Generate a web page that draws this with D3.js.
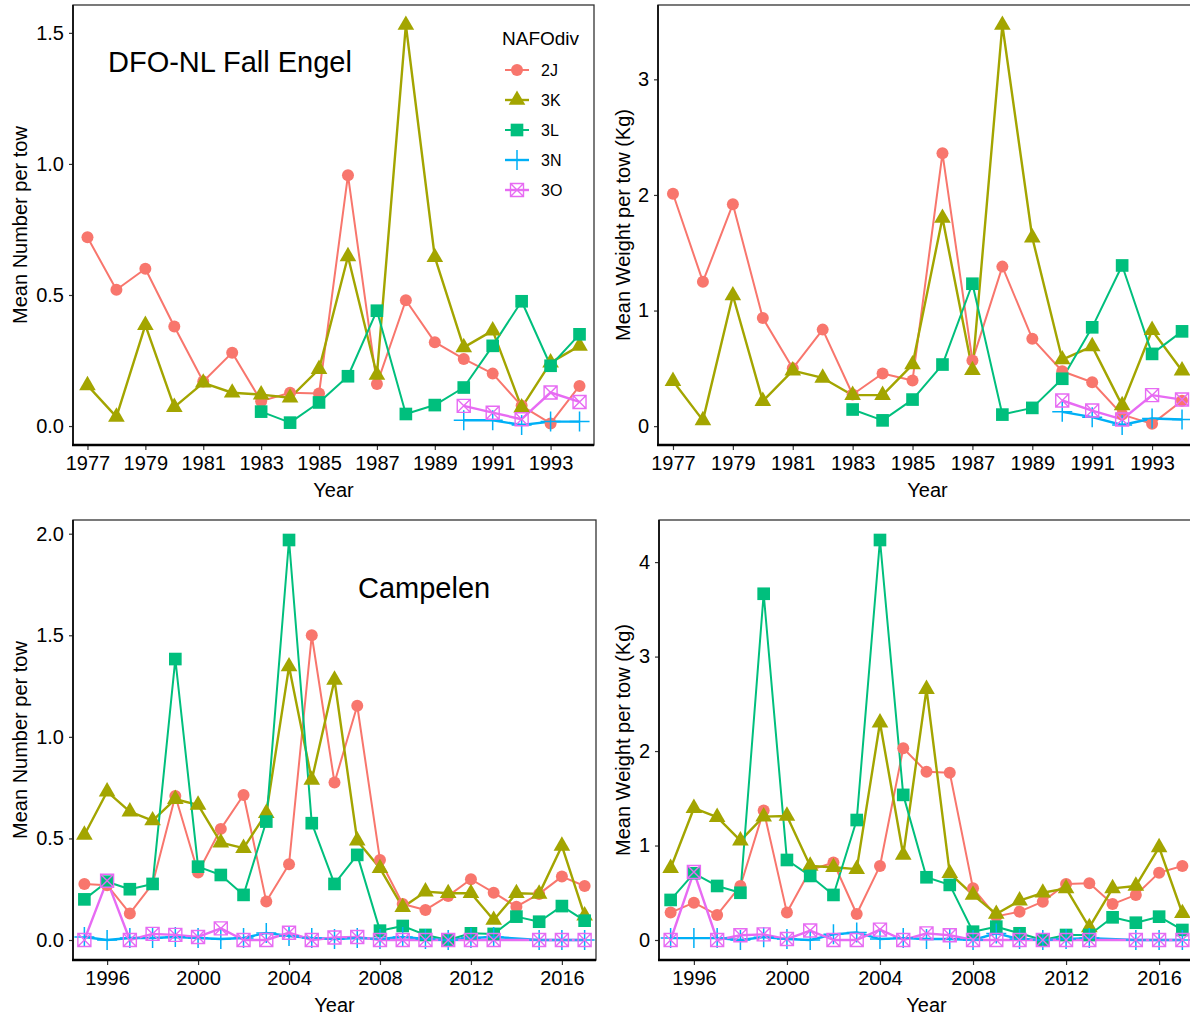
<!DOCTYPE html>
<html><head><meta charset="utf-8">
<script src="https://cdn.jsdelivr.net/npm/d3@7"></script>
<style>body{margin:0;background:#fff} svg{display:block}</style>
</head><body><svg id="c" width="1190" height="1018"></svg>
<script>
// ---------- DATA ----------
const divisions = ["2J", "3K", "3L", "3N", "3O"];

const engelYears = [1977,1978,1979,1980,1981,1982,1983,1984,1985,1986,1987,1988,1989,1990,1991,1992,1993,1994];
const engelNum2J = [0.72,0.52,0.60,0.38,0.17,0.28,0.095,0.127,0.124,0.957,0.16,0.48,0.32,0.256,0.20,0.077,0.01,0.153];
const engelNum3K = [0.155,0.035,0.385,0.072,0.165,0.127,0.12,0.108,0.217,0.647,0.195,1.53,0.644,0.30,0.364,0.07,0.242,0.306];
const engelNum3L = [null,null,null,null,null,null,0.055,0.013,0.09,0.19,0.44,0.046,0.08,0.147,0.306,0.476,0.23,0.35];
const engelNum3N = [null,null,null,null,null,null,null,null,null,null,null,null,null,0.022,0.022,0.004,0.017,0.017];
const engelNum3O = [null,null,null,null,null,null,null,null,null,null,null,null,null,0.077,0.051,0.026,0.128,0.092];

const engelWt2J = [2.01,1.25,1.92,0.935,0.50,0.835,0.274,0.455,0.395,2.36,0.567,1.38,0.757,0.475,0.38,0.10,0.02,0.22];
const engelWt3K = [0.39,0.05,1.13,0.216,0.48,0.417,0.268,0.268,0.533,1.80,0.483,3.47,1.63,0.576,0.69,0.18,0.83,0.48];
const engelWt3L = [null,null,null,null,null,null,0.144,0.05,0.23,0.533,1.232,0.10,0.158,0.41,0.855,1.39,0.625,0.82];
const engelWt3N = [null,null,null,null,null,null,null,null,null,null,null,null,null,0.124,0.078,0.01,0.066,0.058];
const engelWt3O = [null,null,null,null,null,null,null,null,null,null,null,null,null,0.222,0.135,0.058,0.268,0.23];

const campYears = [1995,1996,1997,1998,1999,2000,2001,2002,2003,2004,2005,2006,2007,2008,2009,2010,2011,2012,2013,2014,2015,2016,2017];
const campNum2J = [0.276,0.27,0.131,0.276,0.709,0.332,0.547,0.714,0.189,0.373,1.50,0.775,1.153,0.394,0.177,0.148,0.217,0.299,0.233,0.164,0.227,0.312,0.266];
const campNum3K = [0.517,0.73,0.632,0.588,0.693,0.665,0.479,0.452,0.624,1.346,0.788,1.28,0.489,0.353,0.161,0.238,0.23,0.23,0.0985,0.23,0.227,0.463,0.12];
const campNum3L = [0.20,0.287,0.25,0.276,1.383,0.361,0.32,0.222,0.583,1.969,0.575,0.276,0.419,0.046,0.069,0.025,0.0,0.033,0.03,0.115,0.09,0.167,0.095];
const campNum3N = [0.015,0.0,0.01,0.01,0.015,0.01,0.005,0.01,0.035,0.02,0.01,0.005,0.01,0.005,0.015,0.005,0.0,0.01,0.015,null,0.0,0.0,0.0];
const campNum3O = [0.0,0.292,0.0,0.03,0.025,0.015,0.057,0.0,0.0,0.036,0.0,0.012,0.015,0.0,0.0,0.0,0.0,0.0,0.0,null,0.0,0.0,0.0];

const campWt2J = [0.29,0.395,0.265,0.572,1.37,0.29,0.74,0.82,0.275,0.784,2.03,1.78,1.77,0.547,0.25,0.30,0.406,0.593,0.60,0.38,0.477,0.713,0.784];
const campWt3K = [0.76,1.395,1.30,1.052,1.306,1.313,0.784,0.77,0.75,2.30,0.90,2.655,0.706,0.477,0.275,0.416,0.50,0.547,0.134,0.547,0.572,0.98,0.283];
const campWt3L = [0.424,0.706,0.572,0.50,3.665,0.847,0.678,0.477,1.27,4.234,1.536,0.664,0.583,0.088,0.141,0.071,0.0,0.053,0.053,0.24,0.183,0.247,0.106];
const campWt3N = [0.02,0.02,0.02,0.0,0.03,0.01,0.0,0.06,0.08,0.01,0.02,0.01,0.01,0.0,0.07,0.01,0.0,0.01,0.02,null,0.0,0.0,0.0];
const campWt3O = [0.0,0.72,0.0,0.05,0.06,0.01,0.1,0.0,0.0,0.11,0.0,0.07,0.05,0.0,0.0,0.0,0.0,0.0,0.0,null,0.0,0.0,0.0];

const engelXTicks = [1977,1979,1981,1983,1985,1987,1989,1991,1993];
const campXTicks = [1996,2000,2004,2008,2012,2016];
const engelNumTicks = [0.0,0.5,1.0,1.5];
const engelWtTicks = [0,1,2,3];
const campNumTicks = [0.0,0.5,1.0,1.5,2.0];
const campWtTicks = [0,1,2,3,4];

// ---------- STYLE ----------
const colors = ["#F8766D","#A3A500","#00BF7D","#00B0F6","#E76BF3"];
const shapes = ["circle","triangle","square","plus","boxx"];
const lineW = [2,2.4,2,2.4,2.4];
const FONT = "'Liberation Sans', Arial, Helvetica, sans-serif";

const panels = [
  {years: engelYears, series: [engelNum2J,engelNum3K,engelNum3L,engelNum3N,engelNum3O],
   xTicks: engelXTicks, yTicks: engelNumTicks, yFmt: d3.format(".1f"),
   ylab: "Mean Number per tow", box: {l:73, r:594, t:5, b:445}, ylabX: 20, legend: true,
   title: "DFO-NL Fall Engel", titleX: 108, titleY: 72},
  {years: engelYears, series: [engelWt2J,engelWt3K,engelWt3L,engelWt3N,engelWt3O],
   xTicks: engelXTicks, yTicks: engelWtTicks, yFmt: d3.format("d"),
   ylab: "Mean Weight per tow (Kg)", box: {l:658, r:1197, t:5, b:445}, ylabX: 623},
  {years: campYears, series: [campNum2J,campNum3K,campNum3L,campNum3N,campNum3O],
   xTicks: campXTicks, yTicks: campNumTicks, yFmt: d3.format(".1f"),
   ylab: "Mean Number per tow", box: {l:73, r:596, t:520, b:960}, ylabX: 20,
   title: "Campelen", titleX: 358, titleY: 598},
  {years: campYears, series: [campWt2J,campWt3K,campWt3L,campWt3N,campWt3O],
   xTicks: campXTicks, yTicks: campWtTicks, yFmt: d3.format("d"),
   ylab: "Mean Weight per tow (Kg)", box: {l:659, r:1194, t:520, b:960}, ylabX: 623}
];

const svg = d3.select("#c");

function drawMarker(g, shape, color) {
  if (shape === "circle") {
    g.append("path").attr("d", d3.symbol(d3.symbolCircle, Math.PI*6*6)()).attr("fill", color);
  } else if (shape === "triangle") {
    g.append("path").attr("d", d3.symbol(d3.symbolTriangle, 120)()).attr("fill", color);
  } else if (shape === "square") {
    g.append("path").attr("d", d3.symbol(d3.symbolSquare, 160)()).attr("fill", color);
  } else if (shape === "plus") {
    g.append("path").attr("d", "M-10,0H10M0,-10V10").attr("stroke", color).attr("stroke-width", 1.5).attr("fill", "none");
  } else {
    g.append("path").attr("d", "M-6.5,-6.5h13v13h-13zM-6.5,-6.5L6.5,6.5M6.5,-6.5L-6.5,6.5")
      .attr("stroke", color).attr("stroke-width", 1.4).attr("fill", "none");
  }
}

panels.forEach(p => {
  const b = p.box;
  const x = d3.scaleLinear().domain([p.years[0] - 0.5, p.years[p.years.length-1] + 0.5]).range([b.l, b.r]);
  const all = p.series.flat().filter(v => v !== null);
  const lo = d3.min(all), hi = d3.max(all), pad = (hi - lo) * 0.05;
  const y = d3.scaleLinear().domain([lo - pad, hi + pad]).range([b.b, b.t]);

  const g = svg.append("g");
  g.append("rect").attr("x", b.l).attr("y", b.t).attr("width", b.r - b.l).attr("height", b.b - b.t)
    .attr("fill", "none").attr("stroke", "#333").attr("stroke-width", 1.3);

  const xa = g.append("g").attr("transform", `translate(0,${b.b})`)
    .call(d3.axisBottom(x).tickValues(p.xTicks).tickFormat(d3.format("d")).tickSize(5).tickPadding(6));
  const ya = g.append("g").attr("transform", `translate(${b.l},0)`)
    .call(d3.axisLeft(y).tickValues(p.yTicks).tickFormat(p.yFmt).tickSize(4).tickPadding(5));
  [xa, ya].forEach(a => {
    a.select(".domain").remove();
    a.selectAll(".tick line").attr("stroke", "#333").attr("stroke-width", 1.2);
    a.selectAll(".tick text").attr("fill", "#000").style("font-family", FONT).style("font-size", "20px");
  });
  g.append("line").attr("x1", b.l).attr("x2", b.l).attr("y1", b.t).attr("y2", b.b + 1)
    .attr("stroke", "#111").attr("stroke-width", 1.8);
  g.append("line").attr("x1", b.l - 1).attr("x2", b.r).attr("y1", b.b).attr("y2", b.b)
    .attr("stroke", "#000").attr("stroke-width", 2.6);

  g.append("text").attr("x", (b.l + b.r) / 2).attr("y", b.b + 52).attr("text-anchor", "middle")
    .style("font-family", FONT).style("font-size", "20px").text("Year");
  g.append("text").attr("transform", `translate(${p.ylabX},${(b.t + b.b) / 2}) rotate(-90)`)
    .attr("dy", "0.35em").attr("text-anchor", "middle")
    .style("font-family", FONT).style("font-size", "20px").text(p.ylab);

  const line = d3.line().x(d => x(d[0])).y(d => y(d[1]));
  p.series.forEach((s, i) => {
    const pts = p.years.map((yr, j) => [yr, s[j]]).filter(d => d[1] !== null);
    g.append("path").attr("d", line(pts)).attr("fill", "none").attr("stroke", colors[i])
      .attr("stroke-width", lineW[i]).attr("stroke-linejoin", "round");
  });
  p.series.forEach((s, i) => {
    const pts = p.years.map((yr, j) => [yr, s[j]]).filter(d => d[1] !== null);
    pts.forEach(d => {
      const m = g.append("g").attr("transform", `translate(${x(d[0])},${y(d[1])})`);
      drawMarker(m, shapes[i], colors[i]);
    });
  });

  if (p.title) {
    g.append("text").attr("x", p.titleX).attr("y", p.titleY)
      .style("font-family", FONT).style("font-size", "29px").text(p.title);
  }

  if (p.legend) {
    const lg = g.append("g");
    lg.append("text").attr("x", 502).attr("y", 45).style("font-family", FONT).style("font-size", "19px").text("NAFOdiv");
    divisions.forEach((dv, i) => {
      const cy = 70 + i * 30;
      lg.append("line").attr("x1", 505).attr("x2", 529).attr("y1", cy).attr("y2", cy)
        .attr("stroke", colors[i]).attr("stroke-width", lineW[i]);
      const m = lg.append("g").attr("transform", `translate(517,${cy})`);
      drawMarker(m, shapes[i], colors[i]);
      lg.append("text").attr("x", 541).attr("y", cy + 6).style("font-family", FONT).style("font-size", "16px").text(dv);
    });
  }
});
</script>
</body></html>
